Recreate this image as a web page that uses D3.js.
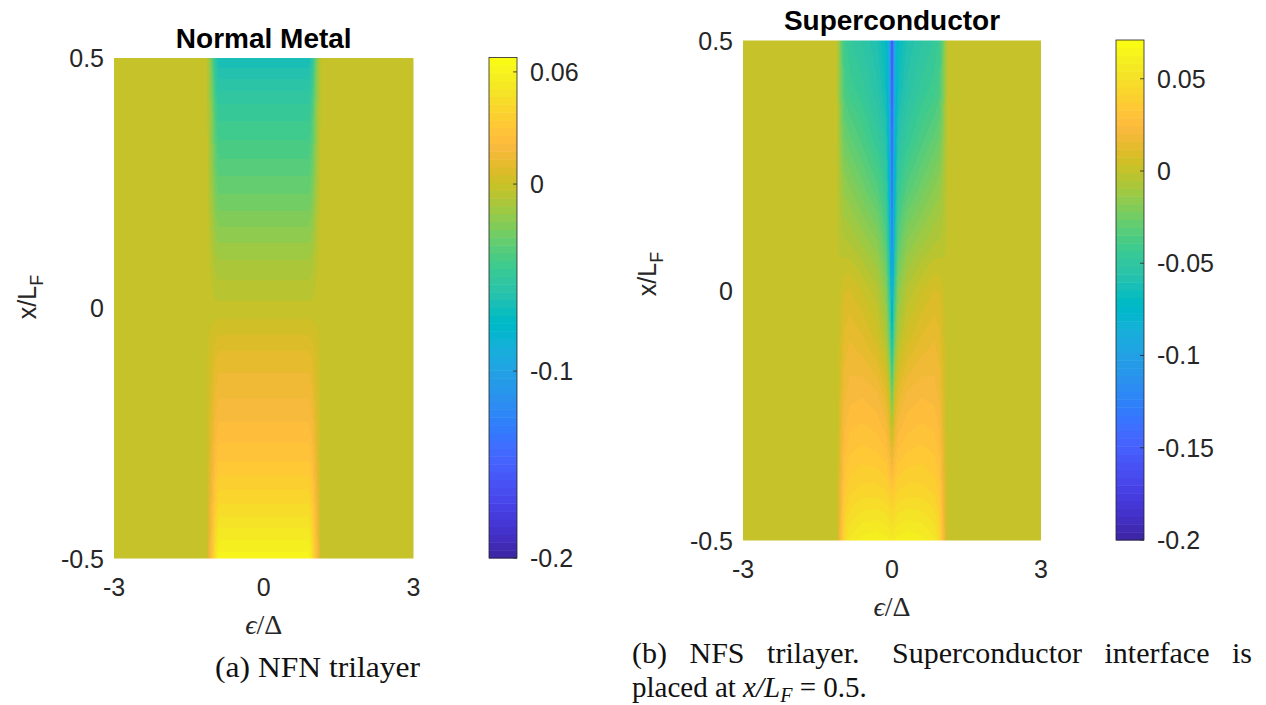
<!DOCTYPE html>
<html>
<head>
<meta charset="utf-8">
<script src="https://cdn.jsdelivr.net/npm/d3@7"></script>
<style>
  body { margin: 0; background: #fff; }
  svg { display: block; }
</style>
</head>
<body>
<svg id="chart" width="1266" height="705"></svg>
<script>
// ---- values ----
const xTicks = [-3, 0, 3];
const yTicks = [-0.5, 0, 0.5];

// (a) normal metal: energy columns, position rows (top -> bottom), field values
const nmEps = [-3, -1.15, -1.05, -0.97, -0.9, 0, 0.9, 0.97, 1.05, 1.15, 3];
const nmPos = [0.5, 0.45, 0.4, 0.3, 0.2, 0.1, 0, -0.1, -0.2, -0.3, -0.4, -0.5];
const nmVals = [
  [0, 0, -0.026, -0.054, -0.066, -0.066, -0.066, -0.054, -0.026, 0, 0],
  [0, 0, -0.022, -0.046, -0.056, -0.056, -0.056, -0.046, -0.022, 0, 0],
  [0, 0, -0.019, -0.039, -0.048, -0.048, -0.048, -0.039, -0.019, 0, 0],
  [0, 0, -0.015, -0.030, -0.037, -0.037, -0.037, -0.030, -0.015, 0, 0],
  [0, 0, -0.010, -0.021, -0.025, -0.025, -0.025, -0.021, -0.010, 0, 0],
  [0, 0, -0.005, -0.010, -0.012, -0.012, -0.012, -0.010, -0.005, 0, 0],
  [0, 0, -0.001, -0.002, -0.002, -0.002, -0.002, -0.002, -0.001, 0, 0],
  [0, 0, 0.004, 0.009, 0.011, 0.011, 0.011, 0.009, 0.004, 0, 0],
  [0, 0, 0.008, 0.016, 0.019, 0.019, 0.019, 0.016, 0.008, 0, 0],
  [0, 0, 0.012, 0.024, 0.029, 0.029, 0.029, 0.024, 0.012, 0, 0],
  [0, 0, 0.018, 0.036, 0.044, 0.044, 0.044, 0.036, 0.018, 0, 0],
  [0, 0, 0.025, 0.051, 0.062, 0.062, 0.062, 0.051, 0.025, 0, 0]
];
const nmClim = [-0.2, 0.0677];
const nmCbTicks = [-0.2, -0.1, 0, 0.06];

// (b) superconductor side
const scEps = [-3, -1.12, -1.04, -0.96, -0.85, -0.6, -0.3, -0.12, -0.04, 0,
               0.04, 0.12, 0.3, 0.6, 0.85, 0.96, 1.04, 1.12, 3];
const scPos = [0.5, 0.4, 0.3, 0.2, 0.1, 0, -0.1, -0.2, -0.3, -0.4, -0.5];
const scVals = [
  [0, 0, -0.022, -0.042, -0.047, -0.052, -0.060, -0.070, -0.100, -0.172, -0.100, -0.070, -0.060, -0.052, -0.047, -0.042, -0.022, 0, 0],
  [0, 0, -0.019, -0.036, -0.041, -0.046, -0.055, -0.066, -0.096, -0.165, -0.096, -0.066, -0.055, -0.046, -0.041, -0.036, -0.019, 0, 0],
  [0, 0, -0.013, -0.025, -0.029, -0.036, -0.046, -0.056, -0.088, -0.155, -0.088, -0.056, -0.046, -0.036, -0.029, -0.025, -0.013, 0, 0],
  [0, 0, -0.007, -0.014, -0.017, -0.024, -0.033, -0.046, -0.080, -0.145, -0.080, -0.046, -0.033, -0.024, -0.017, -0.014, -0.007, 0, 0],
  [0, 0, -0.003, -0.005, -0.006, -0.011, -0.018, -0.033, -0.070, -0.130, -0.070, -0.033, -0.018, -0.011, -0.006, -0.005, -0.003, 0, 0],
  [0, 0, 0.003, 0.007, 0.008, 0.003, -0.004, -0.018, -0.050, -0.100, -0.050, -0.018, -0.004, 0.003, 0.008, 0.007, 0.003, 0, 0],
  [0, 0, 0.006, 0.013, 0.016, 0.013, 0.006, -0.005, -0.030, -0.068, -0.030, -0.005, 0.006, 0.013, 0.016, 0.013, 0.006, 0, 0],
  [0, 0, 0.009, 0.018, 0.022, 0.023, 0.020, 0.012, -0.002, -0.036, -0.002, 0.012, 0.020, 0.023, 0.022, 0.018, 0.009, 0, 0],
  [0, 0, 0.012, 0.025, 0.030, 0.032, 0.030, 0.026, 0.016, 0.004, 0.016, 0.026, 0.030, 0.032, 0.030, 0.025, 0.012, 0, 0],
  [0, 0, 0.016, 0.034, 0.040, 0.043, 0.043, 0.041, 0.037, 0.033, 0.037, 0.041, 0.043, 0.043, 0.040, 0.034, 0.016, 0, 0],
  [0, 0, 0.022, 0.046, 0.055, 0.060, 0.062, 0.060, 0.058, 0.056, 0.058, 0.060, 0.062, 0.060, 0.055, 0.046, 0.022, 0, 0]
];
const scClim = [-0.2, 0.071];
const scCbTicks = [-0.2, -0.15, -0.1, -0.05, 0, 0.05];

// MATLAB parula, 64 entries
const parula = [
  [0.2422,0.1504,0.6603],[0.2504,0.1650,0.7076],[0.2578,0.1818,0.7511],[0.2647,0.1978,0.7952],
  [0.2706,0.2147,0.8364],[0.2751,0.2342,0.8710],[0.2783,0.2559,0.8991],[0.2803,0.2782,0.9221],
  [0.2813,0.3006,0.9414],[0.2810,0.3228,0.9579],[0.2795,0.3447,0.9717],[0.2760,0.3667,0.9829],
  [0.2699,0.3892,0.9906],[0.2602,0.4123,0.9952],[0.2440,0.4358,0.9988],[0.2206,0.4603,0.9973],
  [0.1963,0.4847,0.9892],[0.1834,0.5074,0.9798],[0.1786,0.5289,0.9682],[0.1764,0.5499,0.9520],
  [0.1687,0.5703,0.9359],[0.1540,0.5902,0.9218],[0.1460,0.6091,0.9079],[0.1380,0.6276,0.8973],
  [0.1248,0.6459,0.8883],[0.1113,0.6635,0.8763],[0.0952,0.6798,0.8598],[0.0689,0.6948,0.8394],
  [0.0297,0.7082,0.8163],[0.0036,0.7203,0.7917],[0.0067,0.7312,0.7660],[0.0433,0.7411,0.7394],
  [0.0964,0.7500,0.7120],[0.1408,0.7584,0.6842],[0.1717,0.7670,0.6554],[0.1938,0.7758,0.6251],
  [0.2161,0.7843,0.5923],[0.2470,0.7918,0.5567],[0.2906,0.7973,0.5188],[0.3406,0.8008,0.4789],
  [0.3909,0.8029,0.4354],[0.4456,0.8024,0.3909],[0.5044,0.7993,0.3480],[0.5616,0.7942,0.3045],
  [0.6174,0.7876,0.2612],[0.6720,0.7793,0.2227],[0.7242,0.7698,0.1910],[0.7738,0.7598,0.1646],
  [0.8203,0.7498,0.1535],[0.8634,0.7406,0.1596],[0.9035,0.7330,0.1774],[0.9393,0.7288,0.2100],
  [0.9728,0.7298,0.2394],[0.9956,0.7434,0.2371],[0.9970,0.7659,0.2199],[0.9952,0.7893,0.2028],
  [0.9892,0.8136,0.1885],[0.9786,0.8386,0.1766],[0.9676,0.8639,0.1643],[0.9610,0.8890,0.1537],
  [0.9597,0.9135,0.1423],[0.9628,0.9373,0.1265],[0.9691,0.9606,0.1064],[0.9769,0.9839,0.0805]
].map(c => d3.rgb(c[0]*255, c[1]*255, c[2]*255));

const svg = d3.select('#chart');
const sans = '"Liberation Sans", Arial, Helvetica, sans-serif';
const serif = '"Liberation Serif", "DejaVu Serif", serif';
const ink = '#262626';

// bilinear lookup in the value grid (columns ascending, rows descending)
function sampler(eps, pos, vals) {
  return (e, p) => {
    let i = d3.bisectRight(eps, e) - 1;
    i = Math.max(0, Math.min(eps.length - 2, i));
    let j = 0;
    while (j < pos.length - 2 && p < pos[j + 1]) j++;
    const te = Math.max(0, Math.min(1, (e - eps[i]) / (eps[i + 1] - eps[i])));
    const tp = Math.max(0, Math.min(1, (pos[j] - p) / (pos[j] - pos[j + 1])));
    const a = vals[j][i] * (1 - te) + vals[j][i + 1] * te;
    const b = vals[j + 1][i] * (1 - te) + vals[j + 1][i + 1] * te;
    return a * (1 - tp) + b * tp;
  };
}

function drawPanel(p) {
  const g = svg.append('g');
  const xs = d3.scaleLinear().domain([-3, 3]).range([p.x0, p.x1]);
  const ys = d3.scaleLinear().domain([-0.5, 0.5]).range([p.y1, p.y0]);
  const color = d3.scaleQuantize().domain(p.clim).range(parula);
  const field = sampler(p.eps, p.pos, p.vals);

  // heatmap raster
  const w = Math.round(p.x1 - p.x0), h = Math.round(p.y1 - p.y0);
  const canvas = document.createElement('canvas');
  canvas.width = w; canvas.height = h;
  const ctx = canvas.getContext('2d');
  const img = ctx.createImageData(w, h);
  for (let py = 0; py < h; py++) {
    const pv = ys.invert(p.y0 + (py + 0.5) * (p.y1 - p.y0) / h);
    for (let px = 0; px < w; px++) {
      const ev = xs.invert(p.x0 + (px + 0.5) * (p.x1 - p.x0) / w);
      const c = color(field(ev, pv));
      const k = (py * w + px) * 4;
      img.data[k] = c.r; img.data[k + 1] = c.g; img.data[k + 2] = c.b; img.data[k + 3] = 255;
    }
  }
  ctx.putImageData(img, 0, 0);
  g.append('image')
    .attr('x', p.x0).attr('y', p.y0)
    .attr('width', p.x1 - p.x0).attr('height', p.y1 - p.y0)
    .attr('preserveAspectRatio', 'none')
    .attr('href', canvas.toDataURL());

  // tick labels
  g.selectAll('.xt').data(xTicks).join('text')
    .attr('x', d => xs(d)).attr('y', p.y1 + 37)
    .attr('text-anchor', 'middle')
    .style('font', `25px ${sans}`).attr('fill', ink)
    .text(d => d);
  g.selectAll('.yt').data(yTicks).join('text')
    .attr('x', p.x0 - 10).attr('y', d => ys(d)).attr('dy', '0.36em')
    .attr('text-anchor', 'end')
    .style('font', `25px ${sans}`).attr('fill', ink)
    .text(d => d);

  // title
  g.append('text')
    .attr('x', (p.x0 + p.x1) / 2).attr('y', p.titleY)
    .attr('text-anchor', 'middle')
    .style('font', `bold 28px ${sans}`).attr('fill', '#000')
    .text(p.title);

  // axis labels
  const xl = g.append('text')
    .attr('x', (p.x0 + p.x1) / 2).attr('y', p.y1 + 75)
    .attr('text-anchor', 'middle')
    .style('font', `28px ${serif}`).attr('fill', ink);
  xl.append('tspan').style('font-style', 'italic').text('\u03F5');
  xl.append('tspan').text('/\u0394');

  const yl = g.append('text')
    .attr('transform', `translate(${p.yLabelX},${p.yLabelY}) rotate(-90)`)
    .attr('text-anchor', 'middle')
    .style('font', `25px ${sans}`).attr('fill', ink);
  yl.append('tspan').text('x/L');
  yl.append('tspan').attr('dy', 7).style('font-size', '18px').text('F');

  // colorbar
  const cs = d3.scaleLinear().domain(p.clim).range([p.cb.y1, p.cb.y0]);
  const step = (p.clim[1] - p.clim[0]) / parula.length;
  g.selectAll('.cb').data(parula).join('rect')
    .attr('x', p.cb.x0).attr('width', p.cb.x1 - p.cb.x0)
    .attr('y', (d, i) => cs(p.clim[0] + (i + 1) * step))
    .attr('height', (d, i) => cs(p.clim[0] + i * step) - cs(p.clim[0] + (i + 1) * step) + 0.5)
    .attr('fill', d => d);
  g.append('rect')
    .attr('x', p.cb.x0).attr('y', p.cb.y0)
    .attr('width', p.cb.x1 - p.cb.x0).attr('height', p.cb.y1 - p.cb.y0)
    .attr('fill', 'none').attr('stroke', ink).attr('stroke-width', 0.8);
  g.selectAll('.cbt').data(p.cbTicks).join('line')
    .attr('x1', p.cb.x1 - 4).attr('x2', p.cb.x1)
    .attr('y1', d => cs(d)).attr('y2', d => cs(d))
    .attr('stroke', ink).attr('stroke-width', 0.8);
  g.selectAll('.cbl').data(p.cbTicks).join('text')
    .attr('x', p.cb.x1 + 13).attr('y', d => cs(d)).attr('dy', '0.36em')
    .style('font', `25px ${sans}`).attr('fill', ink)
    .text(d => d);
}

drawPanel({
  title: 'Normal Metal', eps: nmEps, pos: nmPos, vals: nmVals, clim: nmClim, cbTicks: nmCbTicks,
  x0: 114, x1: 413.5, y0: 58, y1: 558.5, titleY: 48,
  yLabelX: 36, yLabelY: 297,
  cb: { x0: 489, x1: 517, y0: 57.5, y1: 558 }
});
drawPanel({
  title: 'Superconductor', eps: scEps, pos: scPos, vals: scVals, clim: scClim, cbTicks: scCbTicks,
  x0: 743, x1: 1041, y0: 40.5, y1: 540.5, titleY: 30,
  yLabelX: 656, yLabelY: 274,
  cb: { x0: 1116, x1: 1144, y0: 40, y1: 540 }
});

// captions
svg.append('text')
  .attr('x', 215).attr('y', 677)
  .attr('textLength', 205).attr('lengthAdjust', 'spacingAndGlyphs')
  .style('font', `30px ${serif}`).attr('fill', '#111')
  .text('(a) NFN trilayer');

const words = ['(b)', 'NFS', 'trilayer.', 'Superconductor', 'interface', 'is'];
const lineL = 632, lineR = 1252;
const wt = svg.selectAll('.cw').data(words).join('text')
  .attr('y', 663)
  .style('font', `30px ${serif}`).attr('fill', '#111')
  .text(d => d);
const widths = wt.nodes().map(n => n.getComputedTextLength());
const extra = 10; // wider gap after the full stop
const gap = (lineR - lineL - d3.sum(widths) - extra) / (words.length - 1);
let cx = lineL;
wt.attr('x', (d, i) => {
  const x = cx;
  cx += widths[i] + gap + (i === 2 ? extra : 0);
  return x;
});

const l2 = svg.append('text')
  .attr('x', lineL).attr('y', 697)
  .style('font', `29px ${serif}`).attr('fill', '#111');
l2.append('tspan').text('placed at ');
l2.append('tspan').style('font-style', 'italic').text('x/L');
l2.append('tspan').attr('dy', 5).style('font-style', 'italic').style('font-size', '20px').text('F');
l2.append('tspan').attr('dy', -5).text(' = 0.5.');
</script>
</body>
</html>
